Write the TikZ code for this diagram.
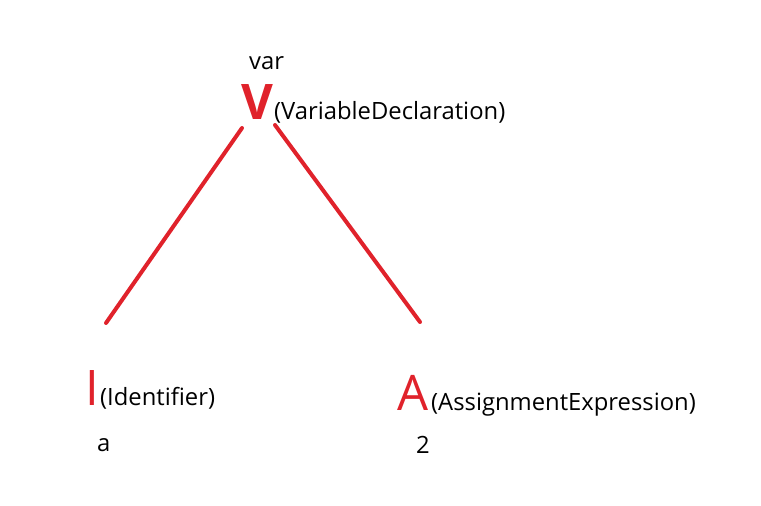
\documentclass[tikz,border=0pt]{standalone}
\usepackage{fontspec}
\setmainfont{Open Sans}
\definecolor{treered}{HTML}{E0222B}
\tikzset{
  lbl/.style={anchor=base west, inner sep=0pt, text=black, font=\fontsize{23.8}{26}\selectfont},
  big/.style={anchor=base west, inner sep=0pt, text=treered, font=\fontsize{49}{52}\selectfont},
  edge/.style={draw=treered, line width=4pt, line cap=round}
}
\begin{document}
\begin{tikzpicture}[x=1pt,y=-1pt]
\useasboundingbox (0,0) rectangle (761,506);
\node[lbl] (var) at (249,69) {var};
\node[big, font=\fontsize{49}{52}\selectfont\bfseries] (V) at (241,119) {V};
\node[lbl] (Vd) at (274,119) {(VariableDeclaration)};
\node[big] (I) at (85,405) {I};
\node[lbl] (Id) at (100,405) {(Identifier)};
\node[lbl] (a) at (97,451) {a};
\node[big] (A) at (397,410) {A};
\node[lbl] (Ad) at (431,410) {(AssignmentExpression)};
\node[lbl] (two) at (416,453) {2};
\coordinate (v1) at (242,128);
\coordinate (v2) at (275,125);
\coordinate (i1) at (106,323);
\coordinate (a1) at (420,322);
\draw[edge] (v1) -- (i1);
\draw[edge] (v2) -- (a1);
\end{tikzpicture}
\end{document}
